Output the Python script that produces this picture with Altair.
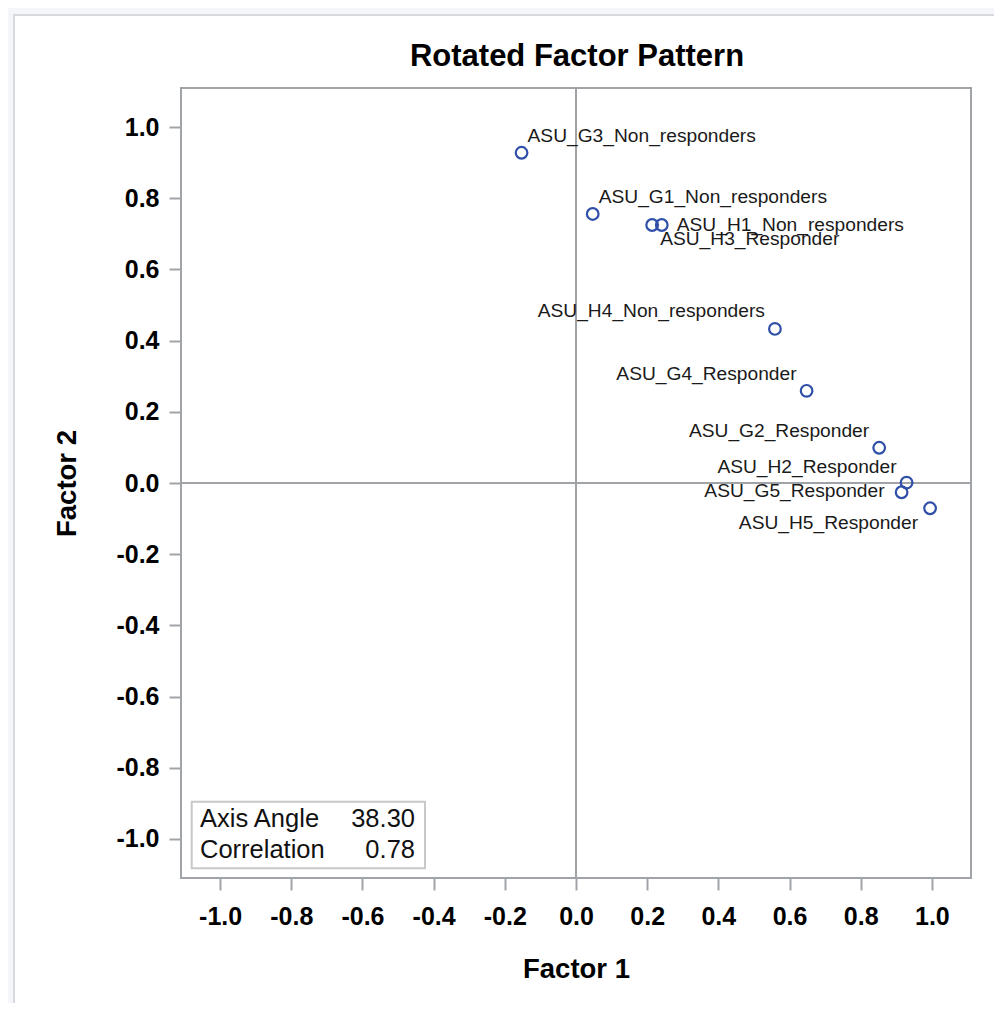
import altair as alt
import pandas as pd

# ---- data ----
names = [
    "ASU_G3_Non_responders", "ASU_G1_Non_responders", "ASU_H3_Responder",
    "ASU_H1_Non_responders", "ASU_H4_Non_responders", "ASU_G4_Responder",
    "ASU_G2_Responder", "ASU_H2_Responder", "ASU_G5_Responder", "ASU_H5_Responder",
]
factor1 = [-0.153, 0.047, 0.214, 0.241, 0.559, 0.648, 0.852, 0.929, 0.915, 0.995]
factor2 = [0.928, 0.756, 0.725, 0.725, 0.433, 0.259, 0.099, 0.001, -0.026, -0.071]
tick_values = [-1.0, -0.8, -0.6, -0.4, -0.2, 0.0, 0.2, 0.4, 0.6, 0.8, 1.0]
inset_labels = ["Axis Angle", "Correlation"]
inset_values = ["38.30", "0.78"]
title_text = "Rotated Factor Pattern"
x_title = "Factor 1"
y_title = "Factor 2"

# label placement (style only)
placement = {
    "ASU_G3_Non_responders": ("left", 6, -11),
    "ASU_G1_Non_responders": ("left", 6, -11),
    "ASU_H1_Non_responders": ("left", 15, 6),
    "ASU_H3_Responder": ("left", 8, 20),
    "ASU_H4_Non_responders": ("right", -10, -12),
    "ASU_G4_Responder": ("right", -10, -11),
    "ASU_G2_Responder": ("right", -10, -11),
    "ASU_H2_Responder": ("right", -10, -10),
    "ASU_G5_Responder": ("right", -17, 5),
    "ASU_H5_Responder": ("right", -12, 21),
}

df = pd.DataFrame({"name": names, "f1": factor1, "f2": factor2})

W, H = 790, 790
FONT = "Liberation Sans"
GRAY = "#a0a4a8"
BLUE = "#2f4fa8"
DOM = [-1.11, 1.11]

xs = alt.Scale(domain=DOM, nice=False, zero=False)
ys = alt.Scale(domain=DOM, nice=False, zero=False)

one = alt.Data(values=[{"a": 1}])

panel = alt.Chart(one).mark_rect(fill="white", stroke="#d6d9de", strokeWidth=2).encode(
    x=alt.value(-167), x2=alt.value(840), y=alt.value(-73), y2=alt.value(940)
)

frame = alt.Chart(one).mark_rect(fill="white", stroke=GRAY, strokeWidth=2).encode(
    x=alt.value(0), x2=alt.value(W), y=alt.value(0), y2=alt.value(H)
)

vzero = alt.Chart(one).mark_rule(color=GRAY, strokeWidth=2).encode(x=alt.datum(0, scale=xs))
hzero = alt.Chart(one).mark_rule(color=GRAY, strokeWidth=2).encode(y=alt.datum(0, scale=ys))

axis_common = dict(
    values=tick_values, format=".1f", labelExpr="replace(datum.label, '\u2212', '-')",
    grid=False, domain=False, zindex=2,
    tickColor=GRAY, tickWidth=2, tickSize=12,
    labelFont=FONT, labelFontSize=25, labelFontWeight="bold", labelColor="#000",
    titleFont=FONT, titleFontSize=27.5, titleFontWeight="bold", titleColor="#000",
)

points = alt.Chart(df).mark_point(
    shape="circle", filled=False, size=135, strokeWidth=2.2, color=BLUE, opacity=1
).encode(
    x=alt.X("f1:Q", scale=xs, title=x_title,
            axis=alt.Axis(labelPadding=14, titleX=W / 2, titleY=99,
                          titleBaseline="alphabetic", titleAlign="center", **axis_common)),
    y=alt.Y("f2:Q", scale=ys, title=y_title,
            axis=alt.Axis(labelPadding=10, titleX=-106, titleY=H / 2, titleAngle=-90,
                          titleBaseline="alphabetic", titleAlign="center", **axis_common)),
)

label_layers = []
for nm in names:
    align, dx, dy = placement[nm]
    label_layers.append(
        alt.Chart(df).transform_filter(alt.datum.name == nm).mark_text(
            align=align, baseline="alphabetic", dx=dx, dy=dy,
            font=FONT, fontSize=19.2, color="#1a1a1a"
        ).encode(x=alt.X("f1:Q", scale=xs), y=alt.Y("f2:Q", scale=ys), text="name:N")
    )

inset_box = alt.Chart(one).mark_rect(fill="white", stroke="#c8c8c8", strokeWidth=2).encode(
    x=alt.value(10.7), x2=alt.value(244), y=alt.value(713.7), y2=alt.value(780.3)
)
inset_layers = [inset_box]
for i, (lab, val) in enumerate(zip(inset_labels, inset_values)):
    yy = 738.7 + i * 31.6
    inset_layers.append(
        alt.Chart(alt.Data(values=[{"t": lab}])).mark_text(
            align="left", baseline="alphabetic", font=FONT, fontSize=25.5, color="#111"
        ).encode(x=alt.value(19), y=alt.value(yy), text="t:N")
    )
    inset_layers.append(
        alt.Chart(alt.Data(values=[{"t": val}])).mark_text(
            align="right", baseline="alphabetic", font=FONT, fontSize=25.5, color="#111"
        ).encode(x=alt.value(234), y=alt.value(yy), text="t:N")
    )

title_layer = alt.Chart(alt.Data(values=[{"t": title_text}])).mark_text(
    align="center", baseline="alphabetic", font=FONT, fontSize=31, fontWeight="bold",
    color="#000"
).encode(x=alt.value(W / 2 + 1), y=alt.value(-22), text="t:N")

chart = alt.layer(
    panel, frame, vzero, hzero, points, *label_layers, *inset_layers, title_layer
).properties(
    width=W, height=H,
    autosize=alt.AutoSizeParams(type="none"),
    padding={"left": 173, "top": 80, "right": 23, "bottom": 125},
    background="#f4f6fa",
).configure_view(stroke=None)

chart.save("out.html", embed_options={"renderer": "svg", "actions": False})
